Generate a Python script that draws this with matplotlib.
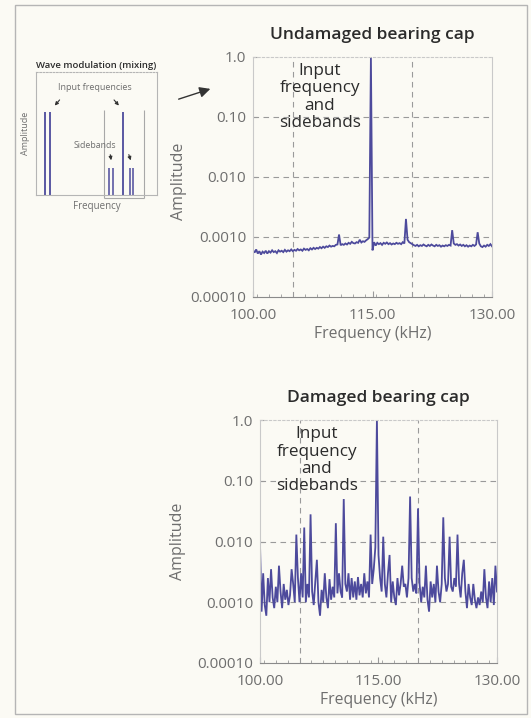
import numpy as np
import matplotlib.pyplot as plt
from matplotlib.patches import Rectangle, FancyArrowPatch
from matplotlib.ticker import FixedLocator, FixedFormatter, MultipleLocator, NullLocator

plt.rcParams['font.family'] = ['Open Sans', 'DejaVu Sans']

# spectra, one value every 0.2 kHz from 100.0 to 130.0 kHz
freq = np.round(np.arange(100.0, 130.01, 0.2), 1)

undamaged = [
    0.00060, 0.00055, 0.00062, 0.00053, 0.00058, 0.00051, 0.00057, 0.00054, 0.00059, 0.00053,
    0.00058, 0.00055, 0.00060, 0.00056, 0.00058, 0.00054, 0.00060, 0.00057, 0.00059, 0.00056,
    0.00061, 0.00057, 0.00060, 0.00058, 0.00062, 0.00058, 0.00061, 0.00059, 0.00063, 0.00060,
    0.00062, 0.00059, 0.00064, 0.00061, 0.00063, 0.00060, 0.00065, 0.00062, 0.00066, 0.00063,
    0.00066, 0.00064, 0.00068, 0.00065, 0.00069, 0.00066, 0.00070, 0.00068, 0.00072, 0.00069,
    0.00071, 0.00070, 0.00074, 0.00075, 0.00110, 0.00073, 0.00076, 0.00074, 0.00078, 0.00075,
    0.00080, 0.00077, 0.00083, 0.00079, 0.00078, 0.00082, 0.00080, 0.00090, 0.00081, 0.00085,
    0.00083, 0.00088, 0.00092, 0.00098, 1.00000, 0.00060, 0.00082, 0.00072, 0.00080, 0.00076,
    0.00079, 0.00074, 0.00080, 0.00077, 0.00081, 0.00076, 0.00079, 0.00075, 0.00078, 0.00076,
    0.00080, 0.00077, 0.00079, 0.00076, 0.00082, 0.00078, 0.00200, 0.00090, 0.00082, 0.00079,
    0.00076, 0.00073, 0.00071, 0.00074, 0.00070, 0.00073, 0.00071, 0.00075, 0.00072, 0.00070,
    0.00074, 0.00071, 0.00075, 0.00072, 0.00070, 0.00074, 0.00071, 0.00073, 0.00069, 0.00072,
    0.00070, 0.00073, 0.00071, 0.00074, 0.00072, 0.00130, 0.00078, 0.00074, 0.00076, 0.00072,
    0.00075, 0.00071, 0.00074, 0.00070, 0.00073, 0.00069, 0.00072, 0.00070, 0.00074, 0.00071,
    0.00075, 0.00120, 0.00078, 0.00070, 0.00068, 0.00072, 0.00069, 0.00074, 0.00071, 0.00076,
    0.00070,
]

damaged = [
    0.0090, 0.0007, 0.0030, 0.0009, 0.0006, 0.0025, 0.0010, 0.0035, 0.0012, 0.0008,
    0.0018, 0.0010, 0.0040, 0.0015, 0.0008, 0.0020, 0.0011, 0.0016, 0.0009, 0.0013,
    0.0035, 0.0020, 0.0010, 0.0130, 0.0025, 0.0010, 0.0030, 0.0012, 0.0170, 0.0010,
    0.0020, 0.0012, 0.0280, 0.0015, 0.0009, 0.0022, 0.0050, 0.0010, 0.0006, 0.0016,
    0.0010, 0.0030, 0.0012, 0.0008, 0.0024, 0.0011, 0.0018, 0.0012, 0.0200, 0.0014,
    0.0030, 0.0015, 0.0012, 0.0500, 0.0020, 0.0015, 0.0030, 0.0011, 0.0025, 0.0012,
    0.0022, 0.0011, 0.0026, 0.0013, 0.0020, 0.0012, 0.0030, 0.0014, 0.0022, 0.0012,
    0.0130, 0.0020, 0.0035, 0.0080, 1.0000, 0.0060, 0.0025, 0.0015, 0.0120, 0.0020,
    0.0012, 0.0030, 0.0060, 0.0010, 0.0022, 0.0012, 0.0009, 0.0025, 0.0013, 0.0020,
    0.0040, 0.0018, 0.0020, 0.0012, 0.0025, 0.0550, 0.0025, 0.0015, 0.0020, 0.0014,
    0.0350, 0.0020, 0.0010, 0.0018, 0.0012, 0.0040, 0.0011, 0.0007, 0.0022, 0.0012,
    0.0020, 0.0010, 0.0040, 0.0015, 0.0010, 0.0020, 0.0250, 0.0025, 0.0015, 0.0020,
    0.0120, 0.0018, 0.0015, 0.0025, 0.0018, 0.0130, 0.0020, 0.0012, 0.0030, 0.0050,
    0.0015, 0.0008, 0.0020, 0.0012, 0.0009, 0.0020, 0.0011, 0.0008, 0.0012, 0.0009,
    0.0015, 0.0010, 0.0035, 0.0012, 0.0008, 0.0022, 0.0010, 0.0025, 0.0009, 0.0040,
    0.0015,
]

x_ticks = [100, 115, 130]
x_labels = ['100.00', '115.00', '130.00']
y_ticks = [1e-4, 1e-3, 1e-2, 1e-1, 1.0]
y_labels = ['0.00010', '0.0010', '0.010', '0.10', '1.0']
grid_x = [105, 120]
grid_y = [1e-3, 1e-2, 1e-1]
note = 'Input\nfrequency\nand\nsidebands'

# small sketch: line positions and heights (arbitrary units)
input_lines = [0.77, 1.18, 7.16]
input_height = 0.675
sideband_lines = [6.06, 6.39, 7.79, 8.04]
sideband_height = 0.22

PAGE = '#fbfaf4'
LINE = '#4d4a9c'
TXT = '#2b2b2b'
GREY = '#6e6e6e'

fig = plt.figure(figsize=(5.31, 7.18), dpi=100, facecolor=PAGE)
W, H = 531, 718


def box(l, t, r, b):
    return [l / W, 1 - b / H, (r - l) / W, (b - t) / H]


def spectrum(ax, amp, title, note_x, ylab_xy):
    ax.set_facecolor(PAGE)
    ax.plot(freq, amp, color=LINE, lw=1.3, solid_joinstyle='miter')
    ax.set_yscale('log')
    ax.set_xlim(100, 130)
    ax.set_ylim(1e-4, 1.0)
    for g in grid_x:
        ax.axvline(g, color='#9a9a9a', lw=0.8, ls=(0, (5, 4)), zorder=0)
    for g in grid_y:
        ax.axhline(g, color='#9a9a9a', lw=0.8, ls=(0, (5, 4)), zorder=0)
    ax.xaxis.set_major_locator(FixedLocator(x_ticks))
    ax.xaxis.set_major_formatter(FixedFormatter(x_labels))
    ax.xaxis.set_minor_locator(MultipleLocator(1.5))
    ax.yaxis.set_major_locator(FixedLocator(y_ticks))
    ax.yaxis.set_major_formatter(FixedFormatter(y_labels))
    ax.yaxis.set_minor_locator(NullLocator())
    ax.tick_params(axis='both', which='both', direction='in', colors='#9a9a9a',
                   labelcolor=GREY, labelsize=11)
    ax.tick_params(axis='x', which='major', length=4, pad=8)
    ax.tick_params(axis='x', which='minor', length=2.5)
    ax.tick_params(axis='y', which='major', length=3, pad=5)
    for side in ['left', 'right', 'top']:
        ax.spines[side].set_color('#c9c9c9')
        ax.spines[side].set_linewidth(0.8)
    ax.spines['top'].set_linestyle((0, (2, 2)))
    ax.spines['bottom'].set_color('#8a8a8a')
    ax.set_xlabel('Frequency (kHz)', color=GREY, fontsize=11.3, labelpad=2)
    ax.set_ylabel('Amplitude', color=GREY, fontsize=11.5)
    ax.yaxis.set_label_coords(*ylab_xy)
    ax.set_title(title, color=TXT, fontsize=12.5, fontweight='semibold', pad=13)
    ax.text(note_x, 0.975, note, transform=ax.transAxes, ha='center', va='top',
            color=TXT, fontsize=12.3, linespacing=1.12)


ax1 = fig.add_axes(box(253, 57, 492, 297))
spectrum(ax1, undamaged, 'Undamaged bearing cap', 0.28, (-0.278, 0.48))

ax2 = fig.add_axes(box(260, 420, 497, 663))
spectrum(ax2, damaged, 'Damaged bearing cap', 0.24, (-0.312, 0.50))

# sketch of wave modulation
ax0 = fig.add_axes(box(36, 72, 157, 195))
ax0.set_facecolor(PAGE)
ax0.set_xlim(0, 10)
ax0.set_ylim(0, 1)
ax0.set_xticks([])
ax0.set_yticks([])
for s in ax0.spines.values():
    s.set_color('#b5b5b5')
    s.set_linewidth(0.8)
ax0.spines['top'].set_linestyle((0, (1.5, 1.5)))
ax0.vlines(input_lines, 0, input_height, color=LINE, lw=1.3)
ax0.vlines(sideband_lines, 0, sideband_height, color=LINE, lw=1.1)
ax0.vlines([5.59, 8.89], -0.024, 0.69, color='#a8a8a8', lw=0.8, clip_on=False)
ax0.hlines(-0.024, 5.59, 8.89, color='#a8a8a8', lw=0.8, clip_on=False)
ax0.set_title('Wave modulation (mixing)', color=TXT, fontsize=6.8,
              fontweight='semibold', pad=3)
ax0.set_xlabel('Frequency', color=GREY, fontsize=7, labelpad=4)
ax0.set_ylabel('Amplitude', color=GREY, fontsize=6.5, labelpad=4)
ax0.text(4.9, 0.87, 'Input frequencies', color=GREY, fontsize=6.5, ha='center', va='center')
ax0.text(4.9, 0.40, 'Sidebands', color=GREY, fontsize=6.3, ha='center', va='center')
arrow = dict(arrowstyle='-|>', color='#333333', lw=0.8, mutation_scale=5)
ax0.annotate('', xy=(1.4, 0.71), xytext=(2.1, 0.79), arrowprops=arrow)
ax0.annotate('', xy=(7.0, 0.71), xytext=(6.3, 0.79), arrowprops=arrow)
ax0.annotate('', xy=(6.25, 0.26), xytext=(6.1, 0.35), arrowprops=arrow)
ax0.annotate('', xy=(7.9, 0.26), xytext=(7.6, 0.35), arrowprops=arrow)

# arrow pointing from the sketch to the spectra
fig.add_artist(FancyArrowPatch((176 / W, 1 - 100 / H), (213 / W, 1 - 88 / H),
                               transform=fig.transFigure, arrowstyle='-|>',
                               mutation_scale=16, color='#333333', lw=1.0))

# page frame
fig.add_artist(Rectangle((15 / W, 1 - 714 / H), (527 - 15) / W, (714 - 5) / H,
                         transform=fig.transFigure, fill=False,
                         edgecolor='#b5b5b5', lw=1.0))

fig.savefig('out.png', dpi=100, facecolor=PAGE)
